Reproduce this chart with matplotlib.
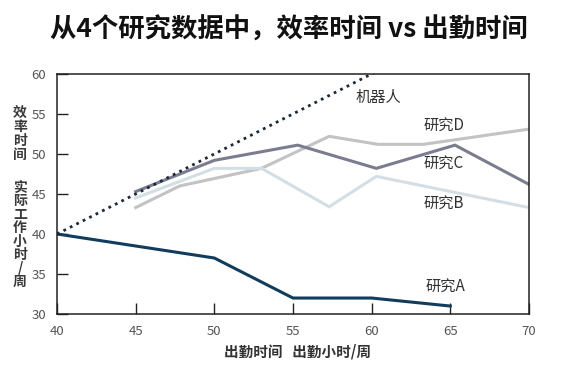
import matplotlib.pyplot as plt

plt.rcParams['font.family'] = ['Noto Sans CJK SC', 'DejaVu Sans']

# data
robot_x = [40, 61]
robot_y = [40, 61]

study_a_x = [40, 50, 55, 60, 65]
study_a_y = [40, 37, 32, 32, 31]

study_b_x = [45, 50, 53, 57.3, 60.3, 70]
study_b_y = [44.5, 48.2, 48.2, 43.4, 47.2, 43.3]

study_c_x = [45, 50, 55.3, 60.3, 65.3, 70]
study_c_y = [45.3, 49.2, 51.1, 48.2, 51.1, 46.2]

study_d_x = [45, 47.8, 53, 57.3, 60.4, 63.3, 70]
study_d_y = [43.3, 46.0, 48.2, 52.2, 51.2, 51.2, 53.1]

x_ticks = [40, 45, 50, 55, 60, 65, 70]
y_ticks = [30, 35, 40, 45, 50, 55, 60]

fig = plt.figure(figsize=(5.72, 3.77), dpi=100)
ax = fig.add_axes([0.0997, 0.167, 0.825, 0.637])

ax.plot(study_d_x, study_d_y, color='#c3c3c5', lw=2.2, solid_joinstyle='miter')
ax.plot(study_b_x, study_b_y, color='#d3dfe5', lw=2.2, solid_joinstyle='miter')
ax.plot(study_c_x, study_c_y, color='#7c7c90', lw=2.2, solid_joinstyle='miter')
ax.plot(study_a_x, study_a_y, color='#123c5c', lw=2.2, solid_joinstyle='miter')
ax.plot(robot_x, robot_y, color='#1a2a3a', lw=2.0, linestyle=(0, (1, 1.6)))

ax.set_xlim(40, 70)
ax.set_ylim(30, 60)
ax.set_xticks(x_ticks)
ax.set_yticks(y_ticks)
ax.tick_params(direction='in', length=8, width=1, colors='#222222',
               labelcolor='#555555', labelsize=9.5, pad=8)
for s in ax.spines.values():
    s.set_linewidth(1.1)
    s.set_color('#222222')

lab = dict(fontsize=11, color='#333333', ha='left', va='center')
ax.text(59.0, 57.0, '机器人', **lab)
ax.text(63.3, 53.4, '研究D', **lab)
ax.text(63.3, 48.75, '研究C', **lab)
ax.text(63.3, 43.75, '研究B', **lab)
ax.text(63.4, 33.4, '研究A', **lab)

fig.text(0.505, 0.92, '从4个研究数据中，效率时间 vs 出勤时间', ha='center', va='center',
         fontsize=19, fontweight='bold', color='#111111')
fig.text(0.52, 0.067, '出勤时间   出勤小时/周', ha='center', va='center',
         fontsize=10.5, fontweight='bold', color='#333333')
fig.text(0.035, 0.645, '\n'.join('效率时间'), ha='center', va='center',
         fontsize=10, fontweight='bold', color='#3a3a3a', linespacing=0.98)
fig.text(0.035, 0.377, '\n'.join('实际工作小时/周'), ha='center', va='center',
         fontsize=10, fontweight='bold', color='#3a3a3a', linespacing=0.95)

fig.savefig('out.png', dpi=100)
